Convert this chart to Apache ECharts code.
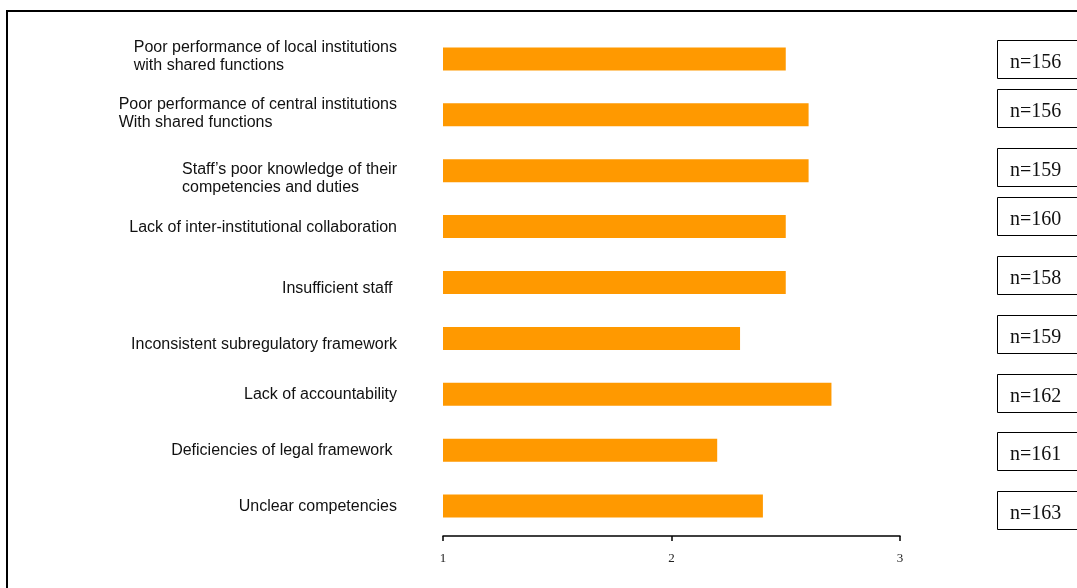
<!DOCTYPE html>
<html>
<head>
<meta charset="utf-8">
<script src="https://cdn.jsdelivr.net/npm/echarts@6/dist/echarts.min.js"></script>
<style>
  html, body { margin: 0; padding: 0; background: #fff; }
  #chart { width: 1077px; height: 588px; }
</style>
</head>
<body>
<div id="chart"></div>
<script>
// categories, top to bottom
const categories = [
  'Poor performance of local institutions\nwith shared functions',
  'Poor performance of central institutions\nWith shared functions',
  'Staff\u2019s poor knowledge of their\ncompetencies and duties',
  'Lack of inter-institutional collaboration',
  'Insufficient staff ',
  'Inconsistent subregulatory framework',
  'Lack of accountability',
  'Deficiencies of legal framework ',
  'Unclear competencies'
]
const meanScores = [2.5, 2.6, 2.6, 2.5, 2.5, 2.3, 2.7, 2.2, 2.4]
const sampleSizes = [156, 156, 159, 160, 158, 159, 162, 161, 163]
const xTicks = [1, 2, 3]

// layout: top edge of each n= box, vertical nudge of each label (px)
const boxTops = [40, 89, 148, 197, 256, 315, 374, 432, 491]
const labelNudge = [-2, -1, 8, 1, 6, 6, 0, 0, 1]

const chart = echarts.init(document.getElementById('chart'))

// n= boxes on the right
let boxes = []
sampleSizes.forEach((n, i) => {
  boxes.push({
    type: 'rect',
    shape: { x: 997.5, y: boxTops[i] + 0.5, width: 120, height: 38 },
    style: { fill: '#fff', stroke: '#000', lineWidth: 1 }
  })
  boxes.push({
    type: 'text',
    x: 1010,
    y: boxTops[i] + 23,
    style: {
      text: 'n=' + n,
      font: '20px "Liberation Serif", serif',
      fill: '#111',
      verticalAlign: 'middle'
    }
  })
})

const labelFont = '"Liberation Sans", Arial, sans-serif'
let rich = {
  l: { align: 'left', fontFamily: labelFont, fontSize: 16, lineHeight: 18, color: '#111' }
}
labelNudge.forEach(d => {
  const h = Math.abs(d) * 2
  if (h) rich['sp' + h] = { fontSize: 1, lineHeight: h }
})

const option = {
  animation: false,
  backgroundColor: '#fff',
  grid: { left: 443, right: 177, top: 31, height: 503 },
  xAxis: {
    type: 'value',
    min: xTicks[0],
    max: xTicks[xTicks.length - 1],
    interval: 1,
    offset: 2,
    splitLine: { show: false },
    axisLine: { show: true, lineStyle: { color: '#000', width: 1.5 } },
    axisTick: { show: true, length: 5, lineStyle: { color: '#000', width: 1.5 } },
    axisLabel: {
      margin: 16,
      fontFamily: '"Liberation Serif", serif',
      fontSize: 13,
      color: '#222'
    }
  },
  yAxis: {
    type: 'category',
    inverse: true,
    data: categories,
    axisLine: { show: false },
    axisTick: { show: false },
    axisLabel: {
      margin: 46,
      align: 'right',
      fontFamily: labelFont,
      fontSize: 16,
      lineHeight: 18,
      color: '#111',
      formatter: function (v, idx) {
        // multi-line labels are left aligned inside their block
        let lines = v.split('\n').map(s => '{l|' + s + '}')
        const d = labelNudge[idx]
        if (d > 0) lines.unshift('{sp' + (d * 2) + '| }')
        if (d < 0) lines.push('{sp' + (-d * 2) + '| }')
        return lines.join('\n')
      },
      rich: rich
    }
  },
  series: [{
    type: 'bar',
    data: meanScores,
    barWidth: 23,
    itemStyle: { color: '#ff9900' }
  }],
  graphic: [
    {
      type: 'rect',
      shape: { x: 7, y: 11, width: 1200, height: 700 },
      style: { fill: 'none', stroke: '#000', lineWidth: 2 },
      z: 100
    }
  ].concat(boxes)
}

chart.setOption(option)
</script>
</body>
</html>
